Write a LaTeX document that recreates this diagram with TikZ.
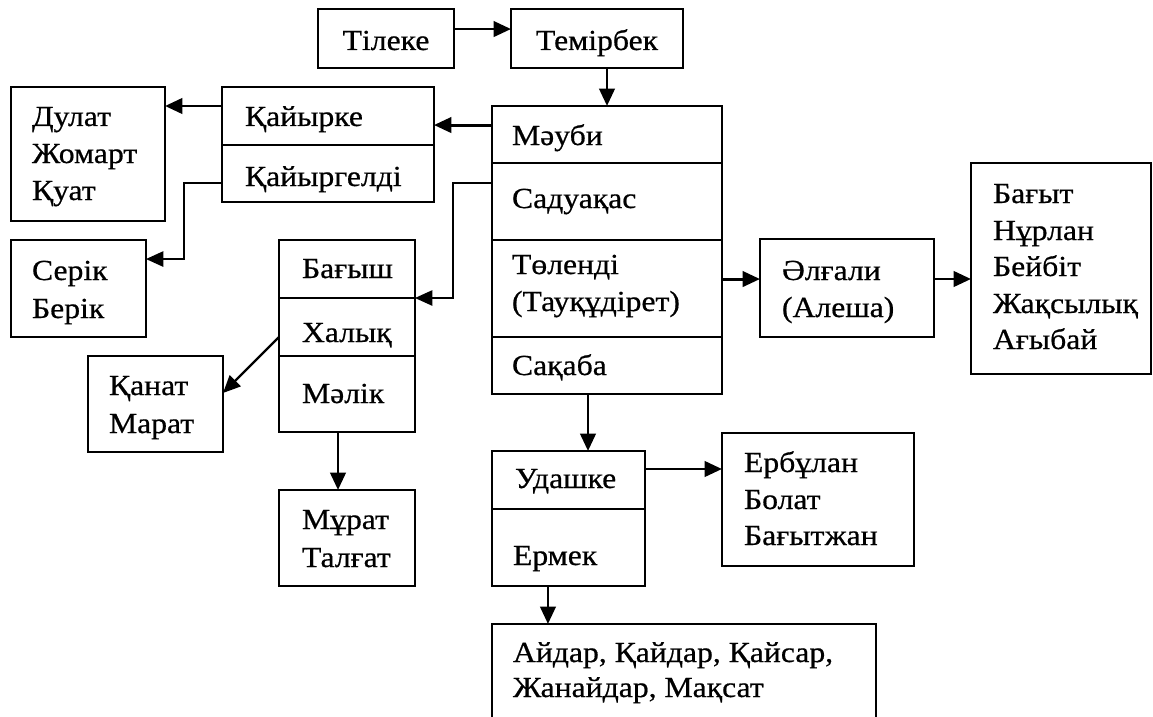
\documentclass[tikz,border=0pt]{standalone}
\usepackage{fontspec}
\setmainfont{Liberation Serif}[FakeStretch=1.09, FakeBold=0.6]
\usetikzlibrary{arrows.meta}
\tikzset{
  boxst/.style={draw=black, line width=1.5pt, inner sep=0pt, outer sep=0pt, fill=none},
  lbl/.style={anchor=base west, inner sep=0pt, outer sep=0pt, font=\fontsize{21.8}{27.75}\selectfont},
  clbl/.style={lbl, anchor=base},
  arr/.style={line width=2.2pt, -{Triangle[length=13pt,width=11.5pt]}},
  midarr/.style={line width=1.8pt, -{Triangle[length=13pt,width=11.5pt]}},
  thinarr/.style={line width=1.2pt, -{Triangle[length=13pt,width=11.5pt]}}
}
\newcommand\bx[5]{\node[boxst,anchor=north west,minimum width={(#4-(#2))*0.75pt},minimum height={(#5-(#3))*0.75pt}] (#1) at (#2,#3) {};}
\newcommand\tl[4]{\node[lbl] (#1) at (#2,#3) {#4};}
\begin{document}
\begin{tikzpicture}[x=0.75pt,y=-0.75pt]
\useasboundingbox (0,0) rectangle (1153,717);
\clip (0,0) rectangle (1153,717);
\fill[white] (0,0) rectangle (1153,717);

% boxes
\bx{tileke}{318}{9}{454}{68}
\bx{temirbek}{511}{9}{683}{68}
\bx{mauby}{492}{106}{722}{163}
\bx{saduaqas}{492}{163}{722}{240}
\bx{tolendi}{492}{240}{722}{337}
\bx{saqaba}{492}{337}{722}{394}
\bx{qaiyrke}{222}{87}{434}{145}
\bx{qaiyrgeldi}{222}{145}{434}{202}
\bx{dulat}{11}{87}{165}{221}
\bx{serik}{11}{240}{146}{337}
\bx{bagysh}{279}{240}{415}{298}
\bx{halyq}{279}{298}{415}{356}
\bx{malik}{279}{356}{415}{432}
\bx{qanat}{88}{356}{223}{452}
\bx{murat}{279}{490}{415}{586}
\bx{olgali}{760}{239}{934}{337}
\bx{bagyt}{971}{163}{1151}{374}
\bx{udashke}{492}{451}{645}{509}
\bx{ermek}{492}{509}{645}{586}
\bx{erbulan}{722}{433}{914}{566}
\bx{bottom}{492}{624}{876}{740}

% texts
\node[clbl] (t1) at (386,50) {Тілеке};
\node[clbl] (t2) at (597,50) {Темірбек};
\tl{t3}{512}{145}{Мәуби}
\tl{t4}{512}{208}{Садуақас}
\tl{t5}{512}{274}{Төленді}
\tl{t6}{512}{311}{(Тауқұдірет)}
\tl{t7}{512}{375}{Сақаба}
\tl{t8}{245}{126}{Қайырке}
\tl{t9}{245}{186}{Қайыргелді}
\tl{t10}{32}{126}{Дулат}
\tl{t11}{32}{163}{Жомарт}
\tl{t12}{32}{200}{Қуат}
\tl{t13}{32}{280}{Серік}
\tl{t14}{32}{318}{Берік}
\tl{t15}{302}{278}{Бағыш}
\tl{t16}{302}{342}{Халық}
\tl{t17}{302}{403}{Мәлік}
\tl{t18}{109}{395}{Қанат}
\tl{t19}{109}{433}{Марат}
\tl{t20}{302}{529}{Мұрат}
\tl{t21}{302}{567}{Талғат}
\tl{t22}{782}{280}{Әлғали}
\tl{t23}{782}{317}{(Алеша)}
\tl{t24}{993}{203}{Бағыт}
\tl{t25}{993}{240}{Нұрлан}
\tl{t26}{993}{276}{Бейбіт}
\tl{t27}{993}{313}{Жақсылық}
\tl{t28}{993}{349}{Ағыбай}
\tl{t29}{515}{488}{Удашке}
\tl{t30}{513}{565}{Ермек}
\tl{t31}{744}{472}{Ербұлан}
\tl{t32}{744}{509}{Болат}
\tl{t33}{744}{545}{Бағытжан}
\tl{t34}{513}{662}{Айдар, Қайдар, Қайсар,}
\tl{t35}{513}{697}{Жанайдар, Мақсат}

% connectors
\draw[arr] ([yshift=7.1pt]tileke.east) -- ([yshift=7.1pt]temirbek.west);
\draw[arr] ([xshift=7.5pt]temirbek.south) -- ([xshift=7.5pt]temirbek.south |- mauby.north);
\draw[arr] ([yshift=7.1pt]mauby.west) -- ([yshift=7.1pt]mauby.west -| qaiyrke.east);
\draw[arr] ([yshift=7.5pt]qaiyrke.west) -- ([yshift=7.5pt]qaiyrke.west -| dulat.east);
\coordinate (k1) at (184,183);
\draw[thinarr] ([yshift=-7.1pt]qaiyrgeldi.west) -- (k1) |- ([yshift=22.1pt]serik.east);
\coordinate (k2) at (453,183);
\draw[thinarr] ([yshift=13.9pt]saduaqas.west) -- (k2) |- (bagysh.south east);
\draw[midarr] ([yshift=-7.5pt]halyq.west) -- ([yshift=8.25pt]qanat.east);
\draw[arr] ([xshift=-6.75pt]malik.south) -- ([xshift=-6.75pt]malik.south |- murat.north);
\draw[arr] ([yshift=7.1pt]tolendi.east) -- ([yshift=7.1pt]tolendi.east -| olgali.west);
\draw[arr] ([yshift=6.75pt]olgali.east) -- ([yshift=6.75pt]olgali.east -| bagyt.west);
\draw[arr] ([xshift=-14.25pt]saqaba.south) -- ([xshift=-14.25pt]saqaba.south |- udashke.north);
\draw[arr] ([yshift=8.25pt]udashke.east) -- ([yshift=8.25pt]udashke.east -| erbulan.west);
\draw[arr] ([xshift=-15.4pt]ermek.south) -- ([xshift=-15.4pt]ermek.south |- bottom.north);
\end{tikzpicture}
\end{document}
